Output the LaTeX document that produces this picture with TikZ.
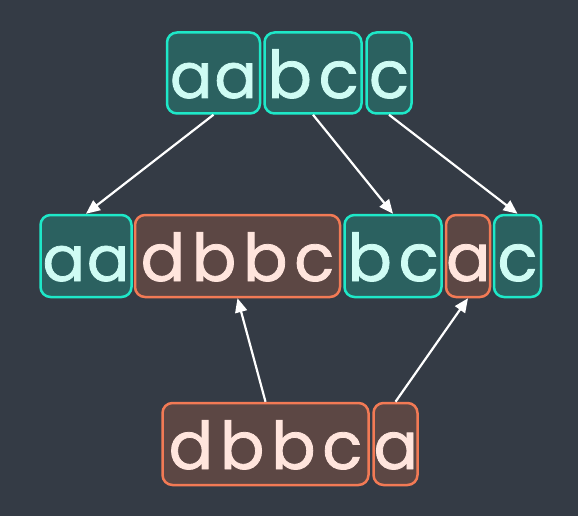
\documentclass[tikz,border=0pt]{standalone}
\usepackage{fontspec}
\setmainfont{Poppins}[LetterSpace=10, FakeBold=1.2]
\newfontfamily\tightfont{Poppins}[LetterSpace=3, FakeBold=1.2]
\usetikzlibrary{arrows.meta}
\definecolor{bg}{HTML}{343B45}
\definecolor{tfill}{HTML}{2B6160}
\definecolor{tline}{HTML}{1EE8C8}
\definecolor{ttext}{HTML}{CFFCF4}
\definecolor{ofill}{HTML}{5C4744}
\definecolor{oline}{HTML}{F27A55}
\definecolor{otext}{HTML}{FFE5DD}
\begin{document}
\begin{tikzpicture}[x=1pt,y=-1pt,
  cell/.style={line width=2.5pt, rounded corners=10pt, inner sep=0pt,
    font=\fontsize{66}{66}\selectfont, text height=50pt, text depth=0pt, align=center},
  tight/.style={font=\tightfont\fontsize{63}{63}\selectfont},
  tcell/.style={cell, draw=tline, fill=tfill, text=ttext},
  ocell/.style={cell, draw=oline, fill=ofill, text=otext},
  wd/.style={text width=#1},
  arr/.style={draw=white, line width=2.2pt, -{Triangle[length=14pt,width=12pt]}}]
\fill[bg] (0,0) rectangle (578,516);
\useasboundingbox (0,0) rectangle (578,516);
% top row
\node[tcell, tight, wd=93pt, minimum height=81pt] (t1) at (213.5,73) {aa};
\node[tcell, wd=97pt, minimum height=81pt] (t2) at (313,73) {bc};
\node[tcell, wd=45pt, minimum height=81pt, font=\tightfont\fontsize{66}{66}\selectfont] (t3) at (389,73) {c};
% middle row
\node[tcell, tight, wd=91pt, minimum height=82pt] (m1) at (86,256) {aa};
\node[ocell, wd=205pt, minimum height=82pt] (m2) at (237.5,256) {dbbc};
\node[tcell, wd=97pt, minimum height=82pt] (m3) at (393,256) {bc};
\node[ocell, wd=44pt, minimum height=82pt, font=\tightfont\fontsize{66}{66}\selectfont] (m4) at (468,256) {a};
\node[tcell, wd=47pt, minimum height=82pt, font=\tightfont\fontsize{66}{66}\selectfont] (m5) at (517.5,256) {c};
% bottom row
\node[ocell, wd=206pt, minimum height=82pt] (b1) at (265.5,444) {dbbc};
\node[ocell, wd=44pt, minimum height=82pt, font=\tightfont\fontsize{66}{66}\selectfont] (b2) at (395.5,444) {a};
% arrows
\draw[arr] (t1.south) -- (m1.north);
\draw[arr] (t2.south) -- (m3.north);
\draw[arr] (t3.south) -- (m5.north);
\draw[arr] (b1.north) -- (m2.south);
\draw[arr] (b2.north) -- (m4.south);
\end{tikzpicture}
\end{document}
